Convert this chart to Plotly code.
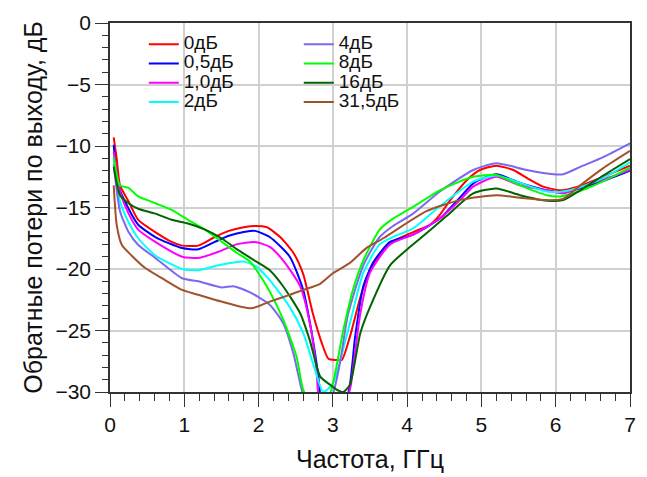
import plotly.graph_objects as go

# ---- data ----
f_0 = [0.05, 0.09, 0.135, 0.25, 0.38, 0.61, 0.83, 0.97, 1.19, 1.41, 1.6, 1.8, 1.95, 2.11, 2.29, 2.47, 2.6, 2.73, 2.85, 2.94, 3.05, 3.12, 3.23, 3.37, 3.5, 3.77, 4.08, 4.31, 4.44, 4.58, 4.8, 4.98, 5.2, 5.43, 5.61, 5.83, 6.06, 6.3, 6.6, 7.0]
v_0 = [-9.3, -11.0, -13.2, -14.5, -16.0, -17.0, -17.8, -18.1, -18.1, -17.4, -16.9, -16.6, -16.5, -16.6, -17.4, -18.7, -20.4, -23.6, -26.0, -27.3, -27.4, -27.4, -25.5, -22.3, -20.1, -17.9, -17.0, -16.4, -15.6, -14.4, -12.8, -11.95, -11.6, -11.95, -12.6, -13.3, -13.6, -13.3, -12.6, -11.6]

f_05 = [0.05, 0.11, 0.25, 0.38, 0.61, 0.97, 1.19, 1.41, 1.6, 1.8, 1.95, 2.15, 2.42, 2.6, 2.71, 2.8, 2.85, 2.95, 3.1, 3.21, 3.3, 3.41, 3.55, 3.77, 4.08, 4.44, 4.71, 4.9, 5.2, 5.52, 5.88, 6.1, 6.4, 6.7, 7.0]
v_05 = [-9.9, -13.2, -15.1, -16.4, -17.4, -18.3, -18.4, -17.8, -17.3, -17.0, -16.9, -17.4, -19.0, -21.7, -25.0, -28.5, -31.0, -32.0, -31.0, -30.0, -25.5, -21.4, -19.4, -17.8, -17.2, -15.9, -14.2, -13.0, -12.3, -13.0, -13.6, -13.8, -13.3, -12.7, -12.0]

f_1 = [0.05, 0.135, 0.25, 0.38, 0.61, 0.97, 1.19, 1.46, 1.7, 1.95, 2.15, 2.33, 2.56, 2.69, 2.78, 2.81, 3.0, 3.21, 3.24, 3.37, 3.5, 3.77, 4.08, 4.44, 4.71, 4.89, 5.2, 5.52, 5.88, 6.1, 6.4, 6.7, 7.0]
v_1 = [-10.5, -13.7, -15.5, -16.8, -17.8, -19.0, -19.1, -18.6, -18.0, -17.8, -18.2, -19.3, -21.4, -24.4, -28.2, -30.2, -32.0, -30.2, -29.5, -23.6, -20.3, -18.0, -17.2, -15.9, -14.4, -13.3, -12.5, -13.2, -13.6, -13.85, -13.2, -12.6, -11.95]

f_2 = [0.05, 0.135, 0.25, 0.38, 0.61, 0.97, 1.19, 1.46, 1.8, 1.97, 2.15, 2.42, 2.6, 2.76, 2.87, 3.0, 3.23, 3.41, 3.63, 3.81, 4.08, 4.44, 4.89, 5.2, 5.52, 5.88, 6.1, 6.4, 6.7, 7.0]
v_2 = [-11.0, -14.5, -16.2, -17.5, -18.9, -20.0, -20.1, -19.7, -19.4, -19.8, -20.9, -23.1, -25.2, -28.2, -30.0, -29.3, -24.4, -20.3, -18.0, -17.4, -16.7, -14.9, -12.9, -12.4, -13.0, -13.7, -13.7, -13.2, -12.4, -11.33]

f_4 = [0.05, 0.135, 0.25, 0.38, 0.61, 0.97, 1.19, 1.5, 1.66, 1.885, 2.15, 2.33, 2.47, 2.58, 2.7, 2.85, 3.0, 3.1, 3.2, 3.41, 3.63, 3.81, 4.08, 4.44, 4.89, 5.2, 5.61, 5.97, 6.1, 6.33, 6.64, 7.0]
v_4 = [-11.5, -15.3, -17.0, -18.05, -19.1, -20.75, -21.0, -21.5, -21.4, -21.9, -22.9, -24.4, -26.9, -29.8, -32.0, -32.0, -30.2, -27.5, -23.8, -19.7, -17.4, -16.5, -15.5, -13.7, -11.95, -11.4, -11.95, -12.3, -12.3, -11.7, -10.9, -9.78]

f_8 = [0.05, 0.135, 0.25, 0.38, 0.61, 0.83, 1.05, 1.28, 1.44, 1.71, 1.885, 2.11, 2.33, 2.51, 2.6, 2.8, 2.98, 3.14, 3.27, 3.41, 3.63, 3.81, 4.04, 4.44, 4.89, 5.2, 5.52, 5.88, 6.06, 6.4, 6.7, 7.0]
v_8 = [-10.9, -13.2, -13.4, -14.1, -14.65, -15.2, -16.0, -16.8, -17.5, -18.7, -19.4, -21.4, -24.1, -27.1, -29.8, -32.0, -29.8, -25.0, -21.7, -19.3, -16.8, -15.9, -15.1, -13.6, -12.5, -12.36, -13.2, -14.0, -14.1, -13.5, -12.7, -11.76]

f_16 = [0.05, 0.135, 0.25, 0.38, 0.61, 0.83, 1.05, 1.28, 1.5, 1.71, 1.97, 2.15, 2.33, 2.56, 2.69, 2.83, 2.96, 3.05, 3.14, 3.23, 3.37, 3.5, 3.77, 4.04, 4.26, 4.53, 4.89, 5.2, 5.52, 5.88, 6.1, 6.33, 6.64, 7.0]
v_16 = [-11.7, -14.0, -14.65, -15.1, -15.5, -16.0, -16.3, -16.8, -17.5, -18.4, -19.4, -20.1, -21.4, -23.6, -25.8, -28.75, -29.4, -29.8, -30.0, -29.4, -25.2, -23.1, -19.7, -18.2, -17.1, -15.7, -13.85, -13.45, -14.0, -14.45, -14.4, -13.6, -12.4, -11.06]

f_315 = [0.05, 0.09, 0.16, 0.29, 0.47, 0.7, 0.97, 1.19, 1.5, 1.9, 2.15, 2.42, 2.6, 2.83, 3.0, 3.23, 3.45, 3.68, 4.26, 4.71, 5.2, 5.52, 5.88, 6.1, 6.33, 6.64, 7.0]
v_315 = [-13.2, -16.4, -18.05, -18.9, -19.9, -20.75, -21.7, -22.1, -22.65, -23.2, -22.65, -22.1, -21.7, -21.2, -20.35, -19.5, -18.3, -17.5, -15.3, -14.4, -14.0, -14.2, -14.4, -14.3, -13.2, -11.8, -10.4]

series_names = ["0дБ", "0,5дБ", "1,0дБ", "2дБ", "4дБ", "8дБ", "16дБ", "31,5дБ"]
series_x = [f_0, f_05, f_1, f_2, f_4, f_8, f_16, f_315]
series_y = [v_0, v_05, v_1, v_2, v_4, v_8, v_16, v_315]
colors = ["#ff0000", "#0000ff", "#ff00ff", "#00ffff", "#7b68ee", "#00ff00", "#006400", "#a0522d"]

x_ticks = [0, 1, 2, 3, 4, 5, 6, 7]
y_ticks = [0, -5, -10, -15, -20, -25, -30]

FONT = "Liberation Sans, Arial, sans-serif"
LEGEND_TEXT_PX = 19

fig = go.Figure()
for i, (name, xs, ys, c) in enumerate(zip(series_names, series_x, series_y, colors)):
    fig.add_trace(go.Scatter(
        x=xs, y=ys, mode="lines",
        name=f'<span style="font-size:{LEGEND_TEXT_PX}px">{name}</span>',
        line=dict(color=c, width=2, shape="spline", smoothing=0.6),
        legend="legend" if i < 4 else "legend2",
    ))

axis_common = dict(
    showline=True, linecolor="#333333", linewidth=1.5, mirror=True,
    showgrid=True, gridcolor="#d0d0d0", gridwidth=1.5,
    ticks="outside", ticklen=13, tickwidth=1, tickcolor="#333333",
    zeroline=False,
    tickfont=dict(family=FONT, size=21, color="#111111"),
)

fig.update_xaxes(
    range=[0, 7], tickvals=x_ticks,
    minor=dict(dtick=0.2, ticks="outside", ticklen=7, tickcolor="#333333", showgrid=False),
    title=dict(text="Частота, ГГц", font=dict(family=FONT, size=25, color="#111111"), standoff=16),
    **axis_common,
)
fig.update_yaxes(
    range=[-30, 0], tickvals=y_ticks,
    minor=dict(dtick=1, ticks="outside", ticklen=6, tickcolor="#333333", showgrid=False),
    title=dict(text="Обратные потери по выходу, дБ", font=dict(family=FONT, size=25, color="#111111"), standoff=6),
    **axis_common,
)

legend_common = dict(
    bgcolor="rgba(0,0,0,0)", borderwidth=0, tracegroupgap=0,
    font=dict(family=FONT, size=12.5, color="#111111"),
    xanchor="left", yanchor="top", traceorder="normal",
)
fig.update_layout(
    width=639, height=469,
    margin=dict(l=102, r=17, t=15, b=85, autoexpand=False),
    paper_bgcolor="white", plot_bgcolor="white",
    showlegend=True,
    legend=dict(x=0.065, y=0.982, **legend_common),
    legend2=dict(x=0.363, y=0.982, **legend_common),
)

fig.write_html("out.html")
